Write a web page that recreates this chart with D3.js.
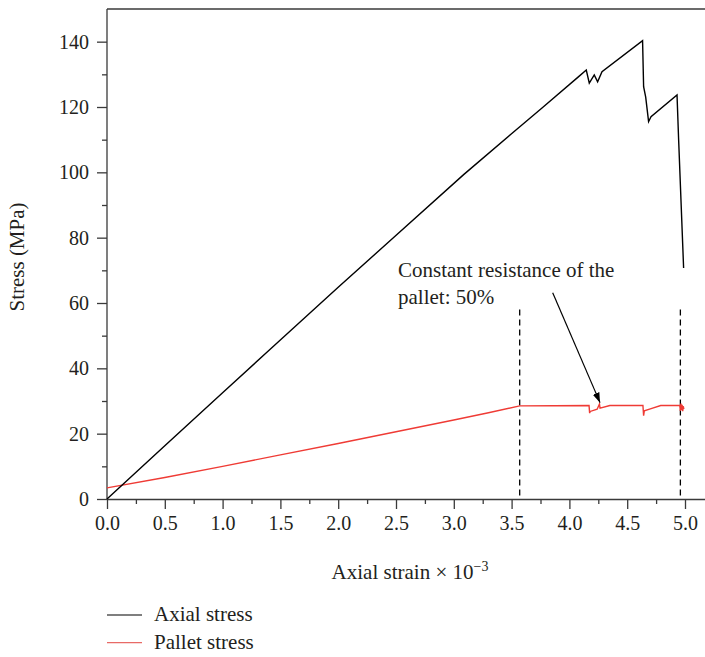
<!DOCTYPE html>
<html>
<head>
<meta charset="utf-8">
<script src="https://cdn.jsdelivr.net/npm/d3@7.9.0/dist/d3.min.js"></script>
<style>
  body { margin: 0; background: #fff; }
  svg text { font-family: "Liberation Serif", "DejaVu Serif", serif; fill: #231f20; }
</style>
</head>
<body>
<script>
// Axial stress curve (strain x 10^-3, MPa)
const axialStrain = [0, 0.5, 1.0, 1.376, 2.0, 2.465, 3.085, 3.489, 3.763, 4.08, 4.146, 4.172, 4.215, 4.244, 4.282, 4.633, 4.642, 4.66, 4.685, 4.706, 4.931, 4.945, 4.988];
const axialStress = [0, 16.3, 32.5, 44.7, 64.8, 79.6, 99.3, 111.5, 119.7, 129.3, 131.3, 127.3, 129.8, 127.7, 130.8, 140.3, 126.2, 123.0, 115.5, 117.0, 123.7, 109.9, 70.7];

// Pallet stress curve
const palletStrain = [0, 0.5, 1.0, 1.5, 2.0, 2.5, 3.0, 3.3, 3.57, 4.17, 4.175, 4.18, 4.24, 4.26, 4.265, 4.35, 4.636, 4.642, 4.648, 4.7, 4.79, 4.955, 4.96, 4.965, 4.97, 4.975, 4.98, 4.985, 4.99];
const palletStress = [3.4, 6.6, 10.0, 13.5, 17.0, 20.6, 24.2, 26.4, 28.5, 28.6, 26.3, 26.8, 27.5, 29.1, 27.8, 28.6, 28.6, 25.5, 27.0, 27.6, 28.6, 28.6, 27.0, 29.2, 27.2, 28.8, 26.9, 28.4, 27.5];

const xTicks = [0, 0.5, 1.0, 1.5, 2.0, 2.5, 3.0, 3.5, 4.0, 4.5, 5.0];
const yTicks = [0, 20, 40, 60, 80, 100, 120, 140];
const dashedStrains = [3.57, 4.96];
const seriesNames = ["Axial stress", "Pallet stress"];

const W = 705, H = 657;
const plotLeft = 107, plotTop = 9, plotBottom = 499;

const svg = d3.select("body").append("svg")
    .attr("width", W)
    .attr("height", H);

const x = d3.scaleLinear().domain([0, 5.3]).range([plotLeft, plotLeft + 5.3 * 115.6]);
const y = d3.scaleLinear().domain([0, 150]).range([plotBottom, plotTop]);

const axisColor = "#3a3a3a";
const red = "#ef3b35";
const tickFont = 20, textFont = 21;

// frame top line
svg.append("line")
    .attr("x1", plotLeft).attr("x2", W)
    .attr("y1", plotTop).attr("y2", plotTop)
    .attr("stroke", axisColor).attr("stroke-width", 1.3);

// x axis (minor then major ticks)
const gx = svg.append("g").attr("transform", `translate(0,${plotBottom})`);
gx.call(d3.axisBottom(x).tickValues(d3.range(0.25, 5.3, 0.5)).tickSize(5).tickSizeOuter(0).tickFormat(""));
gx.call(g => g.select(".domain").remove());
const gx2 = svg.append("g").attr("transform", `translate(0,${plotBottom})`);
gx2.call(d3.axisBottom(x).tickValues(xTicks).tickSize(10).tickSizeOuter(0).tickPadding(7).tickFormat(d3.format(".1f")));
gx2.selectAll("text").attr("font-size", tickFont);

// y axis
const gy = svg.append("g").attr("transform", `translate(${plotLeft},0)`);
gy.call(d3.axisLeft(y).tickValues(d3.range(10, 150, 20)).tickSize(5).tickSizeOuter(0).tickFormat(""));
gy.call(g => g.select(".domain").remove());
const gy2 = svg.append("g").attr("transform", `translate(${plotLeft},0)`);
gy2.call(d3.axisLeft(y).tickValues(yTicks).tickSize(10).tickSizeOuter(0).tickPadding(8));
gy2.select(".domain").attr("d", `M0,${plotBottom}V${plotTop}`);
gy2.selectAll("text").attr("font-size", tickFont);
svg.selectAll(".domain, .tick line").attr("stroke", axisColor).attr("stroke-width", 1.3);

// dashed markers
svg.selectAll(".vdash").data(dashedStrains).enter().append("line")
    .attr("class", "vdash")
    .attr("x1", d => x(d)).attr("x2", d => x(d))
    .attr("y1", y(58)).attr("y2", plotBottom)
    .attr("stroke", "#000").attr("stroke-width", 1.3)
    .attr("stroke-dasharray", "6,4");

const line = d3.line().x(d => x(d[0])).y(d => y(d[1]));

svg.append("path")
    .datum(d3.zip(palletStrain, palletStress))
    .attr("d", line)
    .attr("fill", "none").attr("stroke", red).attr("stroke-width", 1.4);

svg.append("path")
    .datum(d3.zip(axialStrain, axialStress))
    .attr("d", line)
    .attr("fill", "none").attr("stroke", "#000").attr("stroke-width", 1.4);

// annotation
svg.append("text").attr("x", 398).attr("y", 277).attr("font-size", textFont).text("Constant resistance of the");
svg.append("text").attr("x", 398).attr("y", 304).attr("font-size", textFont).text("pallet: 50%");

svg.append("defs").append("marker")
    .attr("id", "arrow").attr("viewBox", "0 0 10 10")
    .attr("refX", 10).attr("refY", 5)
    .attr("markerWidth", 10).attr("markerHeight", 10)
    .attr("markerUnits", "userSpaceOnUse")
    .attr("orient", "auto")
    .append("path").attr("d", "M0,1.5L10,5L0,8.5Z").attr("fill", "#000");

svg.append("line")
    .attr("x1", 552.7).attr("y1", 292.7)
    .attr("x2", x(4.265)).attr("y2", y(29.5))
    .attr("stroke", "#000").attr("stroke-width", 1.2)
    .attr("marker-end", "url(#arrow)");

// axis titles
const xt = svg.append("text").attr("x", 410).attr("y", 579).attr("text-anchor", "middle").attr("font-size", textFont);
xt.append("tspan").text("Axial strain \u00d7 10");
xt.append("tspan").attr("dy", -8).attr("font-size", 14).text("\u22123");

svg.append("text")
    .attr("transform", "translate(24,257) rotate(-90)")
    .attr("text-anchor", "middle").attr("font-size", textFont)
    .text("Stress (MPa)");

// legend
const legendColors = ["#000", "#e86a66"];
seriesNames.forEach((name, i) => {
    const ly = 615 + i * 27.7;
    svg.append("line").attr("x1", 107).attr("x2", 142).attr("y1", ly).attr("y2", ly)
        .attr("stroke", legendColors[i]).attr("stroke-width", 1.2);
    svg.append("text").attr("x", 154).attr("y", ly + 6).attr("font-size", textFont).text(name);
});
</script>
</body>
</html>
